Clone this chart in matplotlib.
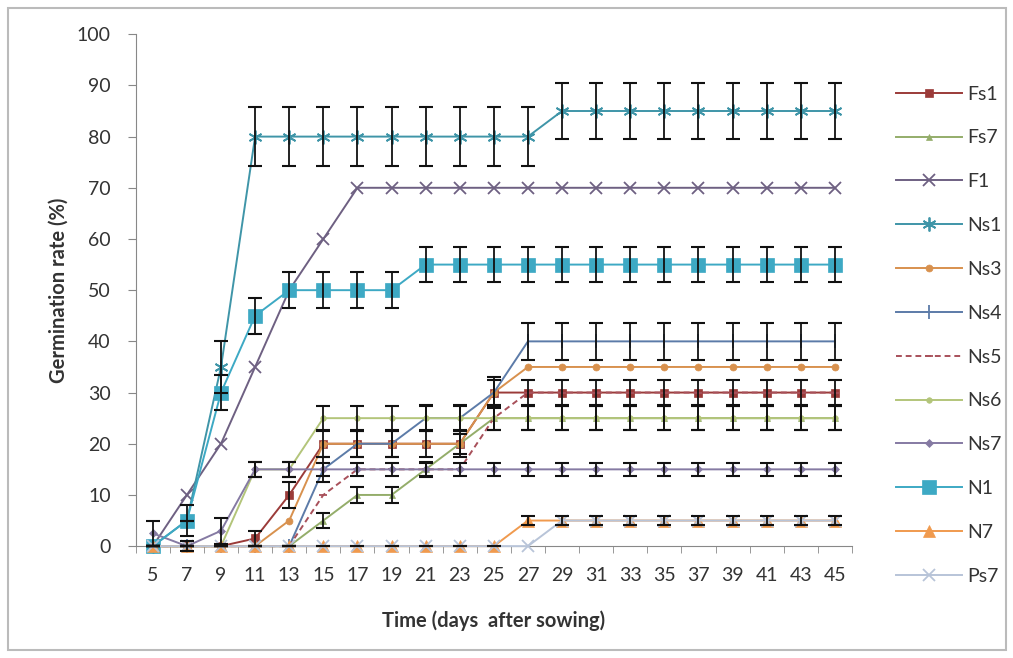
import matplotlib
matplotlib.use('Agg')
import matplotlib.pyplot as plt
import matplotlib.patches as mpatches
from matplotlib.ticker import FixedLocator

plt.rcParams['font.family'] = ['Lato', 'DejaVu Sans']

# --- data ---
days = [5, 7, 9, 11, 13, 15, 17, 19, 21, 23, 25, 27, 29, 31, 33, 35, 37, 39, 41, 43, 45]

fs1 = [0, 0, 0, 1.5, 10, 20, 20, 20, 20, 20, 30, 30, 30, 30, 30, 30, 30, 30, 30, 30, 30]
fs1_err = [0, 0, 0, 1.5, 2.5, 2.5, 2.5, 2.5, 2.5, 2.5, 2.5, 2.5, 2.5, 2.5, 2.5, 2.5, 2.5, 2.5, 2.5, 2.5, 2.5]

fs7 = [0, 0, 0, 0, 0, 5, 10, 10, 15, 20, 25, 25, 25, 25, 25, 25, 25, 25, 25, 25, 25]
fs7_err = [0, 0, 0, 0, 0, 1.5, 1.5, 1.5, 1.5, 2, 2.3, 2.3, 2.3, 2.3, 2.3, 2.3, 2.3, 2.3, 2.3, 2.3, 2.3]

f1 = [0, 10, 20, 35, 50, 60, 70, 70, 70, 70, 70, 70, 70, 70, 70, 70, 70, 70, 70, 70, 70]

ns1 = [0, 5, 35, 80, 80, 80, 80, 80, 80, 80, 80, 80, 85, 85, 85, 85, 85, 85, 85, 85, 85]
ns1_err = [0, 0, 5, 5.8, 5.8, 5.8, 5.8, 5.8, 5.8, 5.8, 5.8, 5.8, 5.5, 5.5, 5.5, 5.5, 5.5, 5.5, 5.5, 5.5, 5.5]

ns3 = [0, 0, 0, 0, 5, 20, 20, 20, 20, 20, 30, 35, 35, 35, 35, 35, 35, 35, 35, 35, 35]

ns4 = [0, 0, 0, 0, 0, 15, 20, 20, 25, 25, 30, 40, 40, 40, 40, 40, 40, 40, 40, 40, 40]
ns4_err = [0, 0, 0, 0, 0, 2.5, 2.5, 2.5, 2.5, 2.5, 3, 3.6, 3.6, 3.6, 3.6, 3.6, 3.6, 3.6, 3.6, 3.6, 3.6]

ns5 = [0, 0, 0, 0, 0, 10, 15, 15, 15, 15, 25, 30, 30, 30, 30, 30, 30, 30, 30, 30, 30]

ns6 = [0, 0, 0, 15, 15, 25, 25, 25, 25, 25, 25, 25, 25, 25, 25, 25, 25, 25, 25, 25, 25]
ns6_err = [0, 0, 0, 1.5, 1.5, 2.3, 2.3, 2.3, 2.3, 2.3, 2.3, 2.3, 2.3, 2.3, 2.3, 2.3, 2.3, 2.3, 2.3, 2.3, 2.3]

ns7 = [2.5, 0, 3, 15, 15, 15, 15, 15, 15, 15, 15, 15, 15, 15, 15, 15, 15, 15, 15, 15, 15]
ns7_err = [2.5, 1, 2.5, 1.5, 1.5, 1.3, 1.3, 1.3, 1.3, 1.3, 1.3, 1.3, 1.3, 1.3, 1.3, 1.3, 1.3, 1.3, 1.3, 1.3, 1.3]

n1 = [0, 5, 30, 45, 50, 50, 50, 50, 55, 55, 55, 55, 55, 55, 55, 55, 55, 55, 55, 55, 55]
n1_err = [0, 3, 3.5, 3.5, 3.5, 3.5, 3.5, 3.5, 3.5, 3.5, 3.5, 3.5, 3.5, 3.5, 3.5, 3.5, 3.5, 3.5, 3.5, 3.5, 3.5]

n7 = [0, 0, 0, 0, 0, 0, 0, 0, 0, 0, 0, 5, 5, 5, 5, 5, 5, 5, 5, 5, 5]
n7_err = [0, 0, 0, 0, 0, 0, 0, 0, 0, 0, 0, 0.8, 0.8, 0.8, 0.8, 0.8, 0.8, 0.8, 0.8, 0.8, 0.8]

ps7 = [0, 0, 0, 0, 0, 0, 0, 0, 0, 0, 0, 0, 5, 5, 5, 5, 5, 5, 5, 5, 5]

# label, values, errors, colour, marker, marker size, linestyle
series = [
    ('Fs1', fs1, fs1_err, '#9B3B39', 's', 6, '-'),
    ('Fs7', fs7, fs7_err, '#94AD6A', '^', 5, '-'),
    ('F1', f1, None, '#6E6082', 'x', 9, '-'),
    ('Ns1', ns1, ns1_err, '#3F95A8', (6, 2, 0), 10, '-'),
    ('Ns3', ns3, None, '#D8914E', 'o', 5, '-'),
    ('Ns4', ns4, ns4_err, '#5C7BA8', '|', 10, '-'),
    ('Ns5', ns5, None, '#A8505A', '_', 6, (0, (3, 2))),
    ('Ns6', ns6, ns6_err, '#B3C57A', 'o', 4, '-'),
    ('Ns7', ns7, ns7_err, '#857AA3', 'D', 4, '-'),
    ('N1', n1, n1_err, '#3DA9C4', 's', 10, '-'),
    ('N7', n7, n7_err, '#F09A4E', '^', 8, '-'),
    ('Ps7', ps7, None, '#B8C4D8', 'x', 9, '-'),
]

fig = plt.figure(figsize=(10.13, 6.58), dpi=100)
ax = fig.add_axes([0.134, 0.170, 0.707, 0.778])

for label, vals, err, col, mk, ms, ls in series:
    thin = mk in ('x', '|', '_') or isinstance(mk, tuple)
    ax.plot(days, vals, color=col, marker=mk, markersize=ms, linestyle=ls,
            linewidth=1.4, markeredgewidth=1.3 if thin else 0.5,
            markeredgecolor=col, label=label, zorder=3, clip_on=False)

for label, vals, err, col, mk, ms, ls in series:
    if err is None:
        continue
    ax.errorbar(days, vals, yerr=err, fmt='none', ecolor='#111111', elinewidth=1.3,
                capsize=5, capthick=1.5, zorder=4, clip_on=False)

ax.set_xlim(4, 46)
ax.set_ylim(0, 100)
ax.set_yticks(range(0, 101, 10))
ax.xaxis.set_major_locator(FixedLocator(days))
ax.xaxis.set_minor_locator(FixedLocator(range(4, 47, 2)))
ax.set_xticklabels([str(d) for d in days])
ax.tick_params(axis='x', which='major', length=0, pad=15, labelsize=14, labelcolor='#333333')
ax.tick_params(axis='x', which='minor', length=5, direction='out', color='#888888')
ax.tick_params(axis='y', length=6, pad=12, labelsize=14, labelcolor='#333333', color='#888888')

for s in ('top', 'right'):
    ax.spines[s].set_visible(False)
for s in ('left', 'bottom'):
    ax.spines[s].set_color('#888888')

ax.set_ylabel('Germination rate (%)', fontsize=14.5, fontweight='bold', color='#333333', labelpad=6)
ax.set_xlabel('Time (days  after sowing)', fontsize=14.5, fontweight='bold', color='#333333', labelpad=19)

leg = ax.legend(loc='upper left', bbox_to_anchor=(1.05, 0.915), frameon=False, fontsize=14,
                handlelength=3.4, handletextpad=0.3, labelspacing=1.38, borderaxespad=0)
for t in leg.get_texts():
    t.set_color('#333333')

# light frame around the whole chart
fig.patches.append(mpatches.Rectangle((8 / 1013, 8 / 658), 998 / 1013, 642 / 658,
                                      transform=fig.transFigure, fill=False,
                                      edgecolor='#BBBBBB', linewidth=1.5))

plt.savefig('out.png', dpi=100)
